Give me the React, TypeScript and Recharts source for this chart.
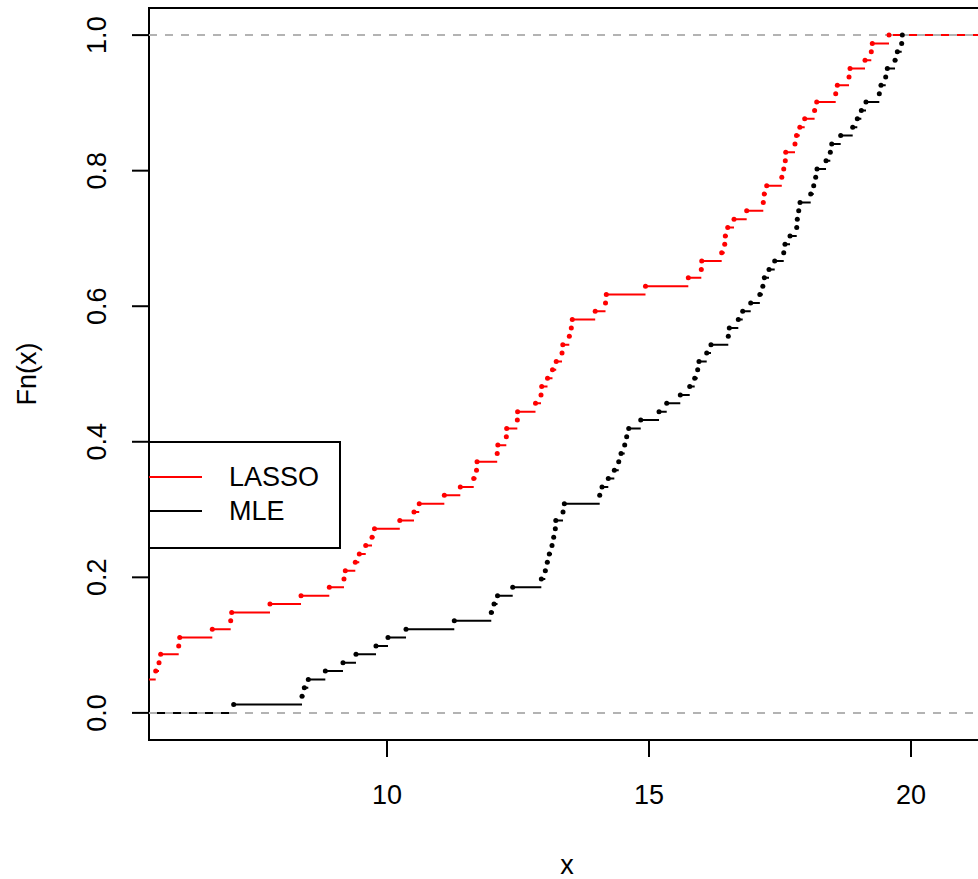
import React from 'react';
import {
  ComposedChart,
  Line,
  Scatter,
  XAxis,
  YAxis,
  ReferenceLine,
  ReferenceArea,
  Legend,
} from 'recharts';

// Empirical CDFs of two estimators (81 observations each).
const N_OBS = 81;

// LASSO: 4 observations lie left of the displayed x-range.
const lassoCountBelowRange = 4;
const lassoJumps = [
  5.586, 5.649, 5.681, 6.025, 6.044, 6.666, 7.017, 7.036, 7.767, 8.359,
  8.899, 9.179, 9.204, 9.395, 9.471, 9.594, 9.714, 9.761, 10.244, 10.515,
  10.615, 11.094, 11.399, 11.655, 11.708, 11.718, 12.103, 12.115, 12.277, 12.284,
  12.487, 12.492, 12.834, 12.939, 12.952, 13.063, 13.158, 13.229, 13.34, 13.355,
  13.479, 13.517, 13.536, 13.973, 14.17, 14.185, 14.933, 15.75, 15.998, 16.006,
  16.387, 16.445, 16.456, 16.502, 16.622, 16.864, 17.181, 17.198, 17.246, 17.534,
  17.571, 17.601, 17.609, 17.786, 17.815, 17.878, 17.971, 18.16, 18.2, 18.563,
  18.594, 18.817, 18.836, 19.122, 19.242, 19.261, 19.58,
];

const mleCountBelowRange = 0;
const mleJumps = [
  7.074, 8.378, 8.422, 8.498, 8.823, 9.16, 9.408, 9.79, 10.019, 10.363,
  11.284, 11.99, 12.042, 12.109, 12.399, 12.945, 13.021, 13.059, 13.097, 13.149,
  13.181, 13.212, 13.221, 13.359, 13.384, 14.059, 14.103, 14.223, 14.338, 14.422,
  14.466, 14.536, 14.574, 14.613, 14.842, 15.191, 15.338, 15.597, 15.777, 15.872,
  15.929, 15.954, 16.101, 16.183, 16.513, 16.532, 16.704, 16.788, 16.941, 17.115,
  17.172, 17.2, 17.29, 17.399, 17.571, 17.595, 17.691, 17.819, 17.83, 17.857,
  17.882, 18.086, 18.143, 18.181, 18.206, 18.378, 18.46, 18.487, 18.658, 18.887,
  18.975, 19.052, 19.141, 19.395, 19.427, 19.517, 19.548, 19.695, 19.739, 19.822,
  19.834,
];

const seriesNames = ['LASSO', 'MLE'];
const seriesColors = ['#FF0000', '#000000'];

const xTicks = [10, 15, 20];
const yTicks = [0, 0.2, 0.4, 0.6, 0.8, 1.0];
const X_DOMAIN: [number, number] = [5.458, 21.412];
const Y_DOMAIN: [number, number] = [-0.04, 1.04];

const FONT = '"Liberation Sans", Arial, Helvetica, sans-serif';
const FONT_SIZE = 27;

type Pt = { x: number; y: number | null };

// Horizontal pieces of a right-continuous step function, separated by null gaps
function stepSegments(jumps: number[], startCount: number, n: number, xmin: number, xmax: number): Pt[] {
  const pts: Pt[] = [];
  let level = startCount / n;
  let from = xmin;
  jumps.forEach((x, i) => {
    pts.push({ x: from, y: level }, { x, y: level }, { x, y: null });
    from = x;
    level = (startCount + i + 1) / n;
  });
  pts.push({ x: from, y: level }, { x: xmax, y: level });
  return pts;
}

function jumpPoints(jumps: number[], startCount: number, n: number): Pt[] {
  return jumps.map((x, i) => ({ x, y: (startCount + i + 1) / n }));
}

const lassoSteps = stepSegments(lassoJumps, lassoCountBelowRange, N_OBS, X_DOMAIN[0], X_DOMAIN[1]);
const mleSteps = stepSegments(mleJumps, mleCountBelowRange, N_OBS, X_DOMAIN[0], X_DOMAIN[1]);
const lassoPts = jumpPoints(lassoJumps, lassoCountBelowRange, N_OBS);
const mlePts = jumpPoints(mleJumps, mleCountBelowRange, N_OBS);

const Dot = (props: any) => {
  const { cx, cy, fill } = props;
  if (cx == null || cy == null) return null;
  return <circle cx={cx} cy={cy} r={2.5} fill={fill} />;
};

const XTick = (props: any) => {
  const { x, y, payload } = props;
  return (
    <text x={x} y={y + 38} textAnchor="middle" dominantBaseline="central"
      fontFamily={FONT} fontSize={FONT_SIZE} fill="#000">
      {payload.value}
    </text>
  );
};

const YTick = (props: any) => {
  const { x, y, payload } = props;
  const tx = x - 35;
  return (
    <text x={tx} y={y} transform={`rotate(-90, ${tx}, ${y})`} textAnchor="middle"
      dominantBaseline="central" fontFamily={FONT} fontSize={FONT_SIZE} fill="#000">
      {Number(payload.value).toFixed(1)}
    </text>
  );
};

const XTitle = (props: any) => {
  const vb = props.viewBox;
  return (
    <text x={vb.x + vb.width / 2} y={vb.y + 125} textAnchor="middle" dominantBaseline="central"
      fontFamily={FONT} fontSize={FONT_SIZE} fill="#000">
      x
    </text>
  );
};

const YTitle = (props: any) => {
  const vb = props.viewBox;
  const cx = vb.x + 27;
  const cy = vb.y + vb.height / 2;
  return (
    <text x={cx} y={cy} transform={`rotate(-90, ${cx}, ${cy})`} textAnchor="middle"
      dominantBaseline="central" fontFamily={FONT} fontSize={FONT_SIZE} fill="#000">
      Fn(x)
    </text>
  );
};

const LegendBox = () => (
  <svg width={193} height={108} style={{ display: 'block' }}>
    <rect x={1} y={1} width={191} height={106} fill="#fff" stroke="#000" strokeWidth={2} />
    {seriesNames.map((name, i) => (
      <g key={name}>
        <line x1={1} x2={54} y1={36 + i * 34} y2={36 + i * 34} stroke={seriesColors[i]} strokeWidth={2} />
        <text x={81} y={36 + i * 34} dominantBaseline="central" fontFamily={FONT}
          fontSize={FONT_SIZE} fill="#000">
          {name}
        </text>
      </g>
    ))}
  </svg>
);

export default function App() {
  return (
    <div style={{ position: 'fixed', left: 0, top: 0, width: 978, height: 879, overflow: 'hidden', background: '#fff' }}>
      <ComposedChart width={1000} height={879} margin={{ top: 8, right: 15, bottom: 0, left: 0 }}>
        <XAxis
          dataKey="x"
          type="number"
          domain={X_DOMAIN}
          allowDataOverflow
          ticks={xTicks}
          interval={0}
          height={139}
          tickSize={17}
          tickMargin={0}
          axisLine={false}
          tickLine={{ stroke: '#000', strokeWidth: 2 }}
          tick={<XTick />}
          label={<XTitle />}
        />
        <YAxis
          type="number"
          domain={Y_DOMAIN}
          allowDataOverflow
          ticks={yTicks}
          interval={0}
          width={149}
          tickSize={17}
          tickMargin={0}
          axisLine={false}
          tickLine={{ stroke: '#000', strokeWidth: 2 }}
          tick={<YTick />}
          label={<YTitle />}
        />
        <ReferenceArea x1={X_DOMAIN[0]} x2={X_DOMAIN[1]} y1={Y_DOMAIN[0]} y2={Y_DOMAIN[1]}
          fill="none" fillOpacity={0} stroke="#000" strokeWidth={2} ifOverflow="visible" />
        {/* MLE first, LASSO drawn on top of it */}
        <Line data={mleSteps} dataKey="y" stroke={seriesColors[1]} strokeWidth={2} dot={false}
          activeDot={false} connectNulls={false} isAnimationActive={false} legendType="none" />
        <Scatter data={mlePts} dataKey="y" fill={seriesColors[1]} shape={<Dot />}
          isAnimationActive={false} legendType="none" />
        <Line data={lassoSteps} dataKey="y" stroke={seriesColors[0]} strokeWidth={2} dot={false}
          activeDot={false} connectNulls={false} isAnimationActive={false} legendType="none" />
        <Scatter data={lassoPts} dataKey="y" fill={seriesColors[0]} shape={<Dot />}
          isAnimationActive={false} legendType="none" />
        <ReferenceLine y={0} stroke="#B3B3B3" strokeWidth={2} strokeDasharray="8 8" />
        <ReferenceLine y={1} stroke="#B3B3B3" strokeWidth={2} strokeDasharray="8 8" />
        <Legend
          layout="vertical"
          align="center"
          verticalAlign="middle"
          wrapperStyle={{ position: 'absolute', left: 148, top: 441, width: 193, height: 108 }}
          content={() => <LegendBox />}
        />
      </ComposedChart>
    </div>
  );
}
